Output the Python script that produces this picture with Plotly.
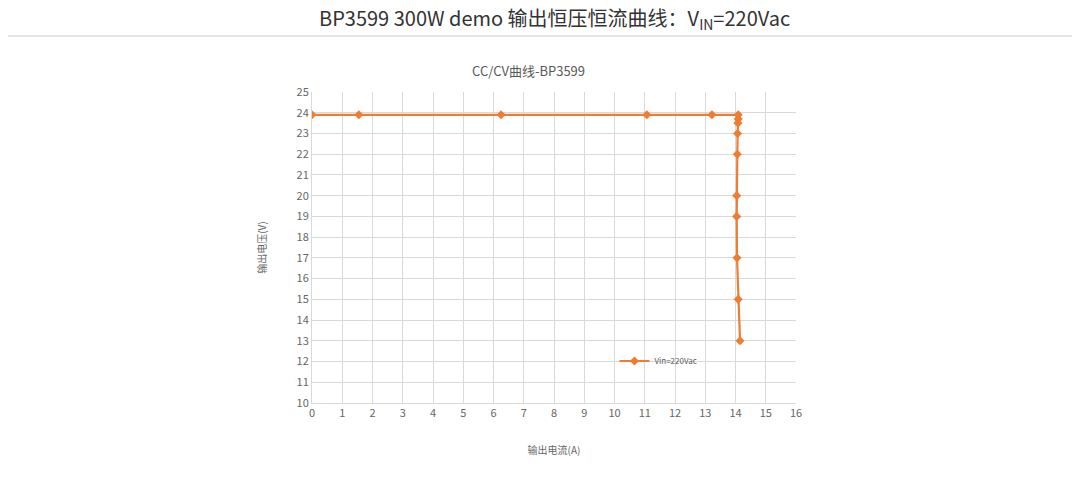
import plotly.graph_objects as go

# CC/CV measurement points, Vin = 220Vac
current_a = [0, 1.55, 6.25, 11.07, 13.22, 14.09, 14.09, 14.08, 14.07, 14.06, 14.04, 14.04, 14.05, 14.09, 14.15]
voltage_v = [23.9, 23.9, 23.9, 23.9, 23.9, 23.9, 23.7, 23.5, 23.0, 22.0, 20.0, 19.0, 17.0, 15.0, 13.0]

x_ticks = list(range(0, 17))
y_ticks = list(range(10, 26))

orange = '#ED7D31'
gridc = '#d9d9d9'
font_cjk = 'Noto Sans CJK SC'

fig = go.Figure()
fig.add_trace(go.Scatter(x=current_a, y=voltage_v,
                         mode='lines+markers',
                         name='Vin=220Vac',
                         line=dict(color=orange, width=2.2),
                         marker=dict(symbol='diamond', size=7, color=orange)))

# page body has an 8px margin, so everything is offset by -8px
fig.update_layout(
    width=1080, height=477,
    showlegend=True,
    paper_bgcolor='white', plot_bgcolor='white',
    margin=dict(l=304, r=292, t=84, b=82),
    font=dict(family=font_cjk, color='#666666', size=11),
    title=dict(text='CC/CV曲线-BP3599', x=0.482, xanchor='center', y=0.866, yanchor='middle',
               font=dict(size=13, color='#595959')),
    legend=dict(x=0.625, y=0.135, xanchor='left', yanchor='middle', itemwidth=30,
                bgcolor='rgba(0,0,0,0)', font=dict(size=8, color='#595959')),
    xaxis=dict(range=[0, 16], tickvals=x_ticks, showgrid=True, gridcolor=gridc,
               zeroline=False, showline=True, linecolor=gridc, ticks='',
               title=dict(text='输出电流(A)', font=dict(size=10), standoff=27)),
    yaxis=dict(range=[10, 25], tickvals=y_ticks, showgrid=True, gridcolor=gridc,
               zeroline=False, showline=True, linecolor=gridc, ticks='',
               title=dict(text='输出电压(V)', font=dict(size=10), standoff=28)),
)

# header caption above the chart
fig.add_annotation(text='BP3599 300W demo 输出恒压恒流曲线：V<sub>IN</sub>=220Vac',
                   xref='paper', yref='paper', x=0.5, y=1.235, showarrow=False,
                   xanchor='center', yanchor='middle',
                   font=dict(family=font_cjk, size=20, color='#333333'))
# separator line under the header
fig.add_shape(type='line', xref='paper', yref='paper', x0=-0.65, x1=1.6, y0=1.18, y1=1.18,
              line=dict(color='#dddddd', width=1.5))

fig.write_html("out.html")
